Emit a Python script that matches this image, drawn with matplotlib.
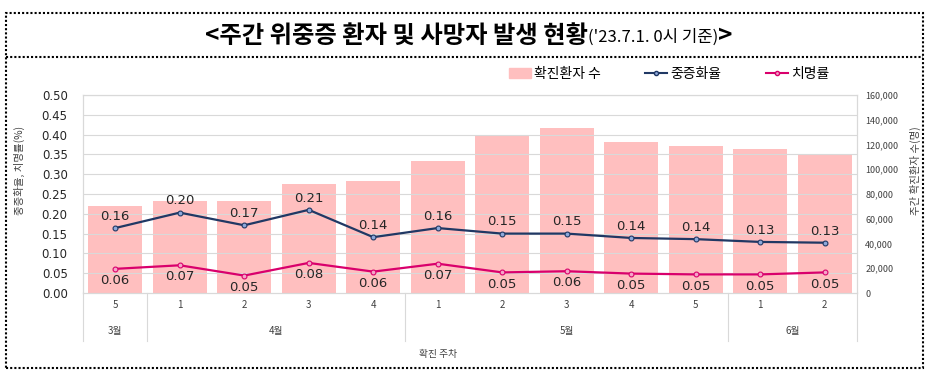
import matplotlib
matplotlib.use('Agg')
import matplotlib.pyplot as plt
from matplotlib.patches import Rectangle
from matplotlib.lines import Line2D
import matplotlib.transforms as mtransforms

plt.rcParams['font.family'] = ['Noto Sans CJK KR', 'DejaVu Sans']

# --- 데이터 ---
weeks = ['5', '1', '2', '3', '4', '1', '2', '3', '4', '5', '1', '2']
months = ['3월', '4월', '5월', '6월']
month_sizes = [1, 4, 5, 2]
cases = [70300, 74300, 74000, 88000, 90500, 106700, 127700, 133300, 122000, 118800, 116700, 112100]
severe_rate = [0.164, 0.203, 0.171, 0.210, 0.141, 0.164, 0.150, 0.150, 0.139, 0.136, 0.129, 0.127]
fatality_rate = [0.061, 0.070, 0.044, 0.076, 0.054, 0.074, 0.052, 0.055, 0.049, 0.047, 0.047, 0.052]
severe_labels = ['0.16', '0.20', '0.17', '0.21', '0.14', '0.16', '0.15', '0.15', '0.14', '0.14', '0.13', '0.13']
fatality_labels = ['0.06', '0.07', '0.05', '0.08', '0.06', '0.07', '0.05', '0.06', '0.05', '0.05', '0.05', '0.05']

bar_color = '#FFBFBF'
severe_color = '#203864'
fatal_color = '#D9006C'

fig = plt.figure(figsize=(9.29, 3.77), dpi=100)

# 점선 테두리
fig.patches.append(Rectangle((0.006, 0.024), 0.988, 0.941, transform=fig.transFigure,
                             fill=False, linestyle=(0, (1, 1)), linewidth=1.5, edgecolor='black'))
fig.lines.append(Line2D([0.006, 0.994], [0.849, 0.849], transform=fig.transFigure,
                        linestyle=(0, (1, 1)), linewidth=1.5, color='black'))

# 제목 (세 부분을 이어 붙임)
renderer = fig.canvas.get_renderer()
t1 = fig.text(205 / 929, 0.905, "<주간 위중증 환자 및 사망자 발생 현황", fontsize=17.5, fontweight='bold',
              ha='left', va='center')
x1 = t1.get_window_extent(renderer).x1 / fig.bbox.width
t2 = fig.text(x1, 0.900, "('23.7.1. 0시 기준)", fontsize=12, ha='left', va='center')
x2 = t2.get_window_extent(renderer).x1 / fig.bbox.width
fig.text(x2, 0.905, ">", fontsize=17.5, fontweight='bold', ha='left', va='center')

ax = fig.add_axes([0.0893, 0.2228, 0.8332, 0.5252])
ax2 = ax.twinx()
ax.set_zorder(ax2.get_zorder() + 1)
ax.patch.set_visible(False)

x = list(range(len(weeks)))
ax2.bar(x, cases, width=0.84, color=bar_color, zorder=2)
ax2.set_ylim(0, 160000)
ax2.set_yticks(range(0, 160001, 20000))
ax2.set_yticklabels([f'{v:,}' for v in range(0, 160001, 20000)], fontsize=6.5, color='#404040')
ax2.tick_params(axis='y', length=0, pad=6)
ax2.set_ylabel('주간 확진환자 수(명)', fontsize=7.5, rotation=90, color='#404040')
ax2.yaxis.set_label_coords(1.068, 0.62)

ax.plot(x, severe_rate, color=severe_color, linewidth=1.6, marker='o', markersize=3.5,
        markerfacecolor='#8EA9DB', markeredgecolor=severe_color, markeredgewidth=0.8, zorder=4)
ax.plot(x, fatality_rate, color=fatal_color, linewidth=1.6, marker='o', markersize=3.5,
        markerfacecolor='#F4A6C8', markeredgecolor=fatal_color, markeredgewidth=0.8, zorder=4)

for i in x:
    ax.text(i, severe_rate[i] + 0.013, severe_labels[i], ha='center', va='bottom', fontsize=9.5,
            family='DejaVu Sans', color='#262626')
    ax.text(i, fatality_rate[i] - 0.013, fatality_labels[i], ha='center', va='top', fontsize=9.5,
            family='DejaVu Sans', color='#262626')

ax.set_xlim(-0.5, len(weeks) - 0.5)
ax.set_ylim(0, 0.5)
ax.set_yticks([i * 0.05 for i in range(11)])
ax.set_yticklabels([f'{i * 0.05:.2f}' for i in range(11)], fontsize=8.5, family='DejaVu Sans', color='#262626')
ax.tick_params(axis='y', length=0, pad=11)
ax.set_ylabel('중증화율, 치명률(%)', fontsize=7.5, color='#404040')
ax.yaxis.set_label_coords(-0.075, 0.62)
ax2.grid(False)
for yv in [i * 0.05 for i in range(1, 11)]:
    ax.axhline(yv, color='#D9D9D9', linewidth=0.8, zorder=0)
for a in (ax, ax2):
    for s in a.spines.values():
        s.set_color('#D9D9D9')
        s.set_linewidth(0.8)
ax.set_xticks([])
ax2.set_xticks([])

# 주차 / 월 축
trans = mtransforms.blended_transform_factory(ax.transData, ax.transAxes)
for i, w in enumerate(weeks):
    ax.text(i, -0.06, w, transform=trans, ha='center', va='center', fontsize=7, color='#404040')
pos = -0.5
bounds = [pos]
for m, n in zip(months, month_sizes):
    ax.text(pos + n / 2, -0.19, m, transform=trans, ha='center', va='center', fontsize=7, color='#404040')
    pos += n
    bounds.append(pos)
for b in bounds:
    ax.plot([b, b], [0, -0.24], transform=trans, color='#D9D9D9', linewidth=0.8, clip_on=False)
ax.text(0.5 * (len(weeks) - 1) - 0.5, -0.31, '확진 주차', transform=trans, ha='center', va='center',
        fontsize=7, color='#404040')

# 범례
handles = [Rectangle((0, 0), 1, 1, color=bar_color),
           Line2D([], [], color=severe_color, marker='o', markersize=3, markerfacecolor='#8EA9DB', linewidth=1.5),
           Line2D([], [], color=fatal_color, marker='o', markersize=3, markerfacecolor='#F4A6C8', linewidth=1.5)]
fig.legend(handles, ['확진환자 수', '중증화율', '치명률'], loc='center', bbox_to_anchor=(0.72, 0.805),
           ncol=3, frameon=False, fontsize=10, handlelength=1.6, handletextpad=0.2, columnspacing=3.2)

fig.savefig('out.png', dpi=100)
